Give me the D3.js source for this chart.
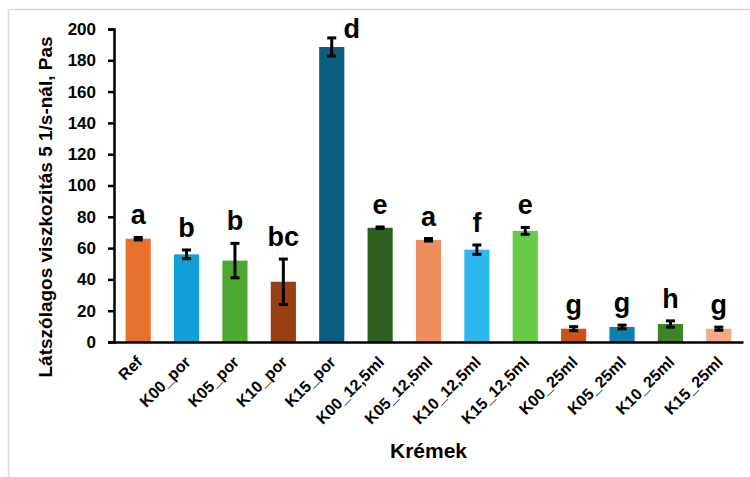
<!DOCTYPE html>
<html>
<head>
<meta charset="utf-8">
<script src="https://cdn.jsdelivr.net/npm/d3@7"></script>
<style>
  html, body { margin: 0; padding: 0; background: #fff; }
  svg { display: block; font-family: "Liberation Sans", Arial, sans-serif; }
</style>
</head>
<body>
<svg id="chart" width="750" height="477"></svg>
<script>
// Sample names (x categories)
const categories = ["Ref", "K00_por", "K05_por", "K10_por", "K15_por",
  "K00_12,5ml", "K05_12,5ml", "K10_12,5ml", "K15_12,5ml",
  "K00_25ml", "K05_25ml", "K10_25ml", "K15_25ml"];
// Apparent viscosity at 5 1/s, Pas (mean)
const values = [66, 56, 52, 38.5, 188.5, 73, 65.3, 59, 71, 8.5, 9.6, 11.5, 8.5];
// Standard deviation
const errors = [0.8, 2.8, 11, 14.5, 5.8, 0.5, 0.8, 3, 2.2, 1.3, 1.2, 2, 1];
// Significance letters
const letters = ["a", "b", "b", "bc", "d", "e", "a", "f", "e", "g", "g", "h", "g"];
// Bar fill colours
const colors = ["#E9712F", "#139ED8", "#4EA72E", "#974013", "#0C5F80",
  "#2F6120", "#EE8E5F", "#2DB8F0", "#67CB45", "#CA5416", "#0E80AB", "#3D8426", "#F2AB86"];
const yTicks = [0, 20, 40, 60, 80, 100, 120, 140, 160, 180, 200];

const svg = d3.select("#chart");

// light outer frame
svg.append("rect")
  .attr("x", 8.5).attr("y", 9.5)
  .attr("width", 800).attr("height", 500)
  .attr("fill", "none").attr("stroke", "#d9d9d9").attr("stroke-width", 1.5);

const plotLeft = 114, plotRight = 743, plotTop = 29, plotBottom = 342;

const x = d3.scaleBand().domain(categories).range([plotLeft, plotRight]).paddingInner(0.48).paddingOuter(0.24);
const y = d3.scaleLinear().domain([0, 200]).range([plotBottom, plotTop]);

// bars
svg.append("g").selectAll("rect")
  .data(categories)
  .join("rect")
  .attr("x", d => x(d))
  .attr("width", x.bandwidth())
  .attr("y", (d, i) => y(values[i]))
  .attr("height", (d, i) => y(0) - y(values[i]))
  .attr("fill", (d, i) => colors[i]);

// error bars
const eb = svg.append("g").attr("stroke", "#000").attr("stroke-width", 3);
categories.forEach((c, i) => {
  const cx = x(c) + x.bandwidth() / 2;
  const y1 = y(values[i] + errors[i]), y2 = y(values[i] - errors[i]);
  eb.append("line").attr("x1", cx).attr("x2", cx).attr("y1", y1).attr("y2", y2);
  eb.append("line").attr("x1", cx - 4.5).attr("x2", cx + 4.5).attr("y1", y1).attr("y2", y1);
  eb.append("line").attr("x1", cx - 4.5).attr("x2", cx + 4.5).attr("y1", y2).attr("y2", y2);
});

// significance letters: above the error bar, or beside it when no room above
svg.append("g").selectAll("text")
  .data(categories)
  .join("text")
  .attr("font-size", 27).attr("font-weight", "bold")
  .attr("text-anchor", "middle")
  .each(function (d, i) {
    const cx = x(d) + x.bandwidth() / 2;
    const yt = y(values[i] + errors[i]);
    const sel = d3.select(this);
    if (yt - 13 - 19 < 9) {
      sel.attr("x", cx + 20).attr("y", yt);
    } else {
      sel.attr("x", cx).attr("y", yt - 13);
    }
  })
  .text((d, i) => letters[i]);

// y axis
const yAxis = svg.append("g")
  .attr("transform", `translate(${plotLeft},0)`)
  .call(d3.axisLeft(y).tickValues(yTicks).tickSize(6).tickPadding(12));
yAxis.select(".domain").attr("stroke", "#000").attr("stroke-width", 2.5);
yAxis.selectAll(".tick line").attr("stroke", "#000").attr("stroke-width", 2.5);
yAxis.selectAll(".tick text")
  .attr("font-size", 17).attr("font-weight", "bold").attr("fill", "#000")
  .attr("font-family", "Liberation Sans, Arial, sans-serif");

// x axis
const xAxis = svg.append("g")
  .attr("transform", `translate(0,${plotBottom})`)
  .call(d3.axisBottom(x).tickSize(0).tickPadding(0));
xAxis.select(".domain").attr("stroke", "#000").attr("stroke-width", 2.5);
xAxis.selectAll(".tick text")
  .attr("font-size", 16).attr("font-weight", "bold").attr("fill", "#000")
  .attr("font-family", "Liberation Sans, Arial, sans-serif")
  .attr("text-anchor", "end")
  .attr("dy", null).attr("y", null)
  .attr("transform", "translate(5,21) rotate(-45)");

// axis titles
svg.append("text")
  .attr("transform", "translate(52,207) rotate(-90)")
  .attr("text-anchor", "middle")
  .attr("font-size", 19).attr("font-weight", "bold")
  .text("Látszólagos viszkozitás 5 1/s-nál, Pas");

svg.append("text")
  .attr("x", (plotLeft + plotRight) / 2).attr("y", 458)
  .attr("text-anchor", "middle")
  .attr("font-size", 21).attr("font-weight", "bold")
  .text("Krémek");
</script>
</body>
</html>
